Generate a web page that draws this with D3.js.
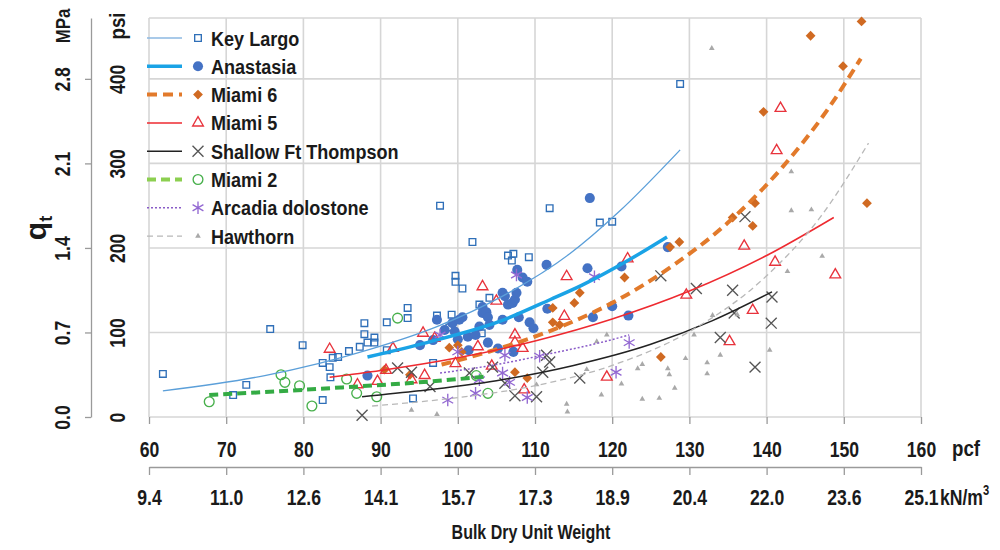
<!DOCTYPE html>
<html>
<head>
<meta charset="utf-8">
<script src="https://cdn.jsdelivr.net/npm/d3@7"></script>
<style>
body { margin: 0; background: #fff; }
svg text { font-family: "Liberation Sans", Arial, sans-serif; font-weight: bold; fill: #1a1a1a; }
</style>
</head>
<body>
<svg id="chart" width="1000" height="550"></svg>
<script>
"use strict"

// ---- data: [pcf, psi] ----
const keyLargo = [[61.8,51],[70.9,26],[72.6,38],[75.7,104],[79.9,85],[82.5,64],[82.5,20],[83.4,59],[83.5,47],[83.8,70],[84.5,71],[85.9,78],[87.3,83],[87.9,111],[87.9,98],[88.3,88],[89.2,94],[89.2,88],[90.8,112],[90.8,79],[93.5,129],[93.5,117],[94.2,22],[96.8,64],[97.3,120],[97.7,250],[98.9,106],[99.2,121],[99.7,167],[99.7,160],[100.6,152],[101.9,207],[102.8,133],[103.1,99],[104.1,141],[106.5,191],[107.0,185],[107.2,193],[109.2,189],[111.9,247],[118.4,230],[120.0,231],[128.8,394]]
const anastasia = [[88.3,49],[95.1,85],[96.8,91],[97.3,115],[98.3,103],[99.3,111],[99.6,101],[100.0,92],[100.2,115],[100.6,118],[101.3,95],[101.4,79],[102.3,97],[102.8,107],[103.2,130],[103.2,123],[103.7,124],[103.9,118],[104.1,109],[103.9,88],[105.2,81],[105.8,147],[106.1,143],[105.8,115],[106.5,133],[107.1,135],[107.4,139],[107.6,147],[107.7,174],[107.9,118],[108.4,165],[109.0,160],[109.3,112],[109.8,105],[107.2,77],[111.6,128],[111.5,180],[116.8,176],[117.1,259],[117.5,118],[120.0,131],[121.2,178],[122.1,120],[127.2,201]]
const miami6 = [[90.5,56],[93.8,50],[98.9,82],[100.0,85],[100.5,77],[107.4,53],[109.0,46],[112.3,129],[112.3,112],[113.2,109],[115.1,135],[115.8,147],[121.6,165],[126.3,71],[127.5,201],[128.7,207],[135.6,236],[138.2,226],[138.5,253],[139.6,361],[145.7,451],[149.9,415],[152.3,468],[153.0,253]]
const miami5 = [[83.4,82],[87.0,40],[89.6,44],[90.7,57],[91.6,83],[94.0,46],[95.7,51],[95.5,101],[97.0,95],[99.7,65],[102.6,85],[103.2,156],[104.4,62],[105.0,139],[107.4,99],[107.4,90],[108.4,83],[108.6,34],[113.8,121],[114.1,168],[119.3,49],[122.0,189],[129.6,146],[135.2,91],[137.1,204],[138.2,128],[141.1,185],[141.3,317],[141.8,367],[148.9,170]]
const shallowFt = [[87.6,2],[92.2,58],[94.0,53],[96.4,36],[101.5,52],[104.5,59],[106.1,40],[107.4,25],[110.2,24],[111.0,53],[111.5,73],[111.9,65],[115.8,46],[126.3,167],[130.9,152],[134.0,94],[135.6,150],[135.8,123],[137.2,237],[138.5,59],[140.6,111],[140.7,142]]
const miami2 = [[67.8,18],[77.1,50],[77.6,41],[79.5,37],[81.1,13],[85.6,45],[86.9,28],[89.5,24],[92.2,117],[102.4,49],[103.9,28]]
const arcadia = [[97.7,97],[98.7,20],[100.0,77],[102.3,28],[102.8,44],[105.8,52],[106.1,73],[106.7,41],[107.6,168],[109.0,23],[110.6,72],[117.7,166],[120.5,53],[122.2,88]]
const hawthorn = [[94.0,10],[97.3,5],[110.2,40],[114.1,17],[114.2,8],[116.7,58],[118.0,91],[118.6,28],[119.3,99],[121.2,41],[123.3,59],[123.9,64],[123.9,23],[126.1,24],[127.2,59],[127.4,52],[128.1,36],[129.5,71],[130.6,99],[132.3,66],[132.3,53],[132.9,438],[133.0,122],[134.0,75],[136.2,123],[140.4,81],[142.7,174],[143.2,292],[143.2,246],[145.8,247],[147.2,192]]

// trendlines: [pcf, psi]
const keyLargoTrend = [[61.8,31],[75,49],[88.6,80],[97.3,107],[105.8,143],[114.5,193],[120.9,243],[128.8,316]]
const anastasiaTrend = [[88.3,71],[96,88],[105.4,113],[112,139],[116.1,156],[122.2,186],[127.1,213]]
const miami6Trend = [[97.9,62],[105,80],[112,102],[120,135],[128,180],[135,230],[142,295],[148,365],[152.2,424]]
const miami5Trend = [[83.4,47],[90,55],[100,70],[110,90],[120,116],[130,149],[140,191],[148.7,236]]
const shallowFtTrend = [[87.6,24],[95,31],[105,43],[115,61],[125,86],[133,114],[140.7,148]]
const miami2Trend = [[67.8,26],[75,29.5],[85,35],[95,41],[103.9,48]]
const arcadiaTrend = [[97.7,52],[105,62],[112,75],[118,87],[122.2,97]]
const hawthornTrend = [[88.9,13],[100,23],[110,37],[120,61],[130,101],[140,167],[147,237],[153.2,324]]

const seriesNames = ["Key Largo", "Anastasia", "Miami 6", "Miami 5", "Shallow Ft Thompson", "Miami 2", "Arcadia dolostone", "Hawthorn"]

// ticks
const pcfTicks = [60, 70, 80, 90, 100, 110, 120, 130, 140, 150, 160]
const kNLabels = ["9.4", "11.0", "12.6", "14.1", "15.7", "17.3", "18.9", "20.4", "22.0", "23.6", "25.1"]
const psiTicks = [0, 100, 200, 300, 400]
const mpaLabels = ["0.0", "0.7", "1.4", "2.1", "2.8"]

// ---- styles ----
const styles = {
	"Key Largo":           { pts: keyLargo,  trend: keyLargoTrend,  sym: "square",   size: 44, fill: "none", stroke: "#2f6fb8", line: "#5b9fd9", lw: 1.3, dash: null, legendLine: "#8cb8e2" },
	"Anastasia":           { pts: anastasia, trend: anastasiaTrend, sym: "circle",   size: 80, fill: "#4472c4", stroke: "none", line: "#1aa3e6", lw: 3.5, dash: null },
	"Miami 6":             { pts: miami6,    trend: miami6Trend,    sym: "diamond",  size: 48, fill: "#d06a22", stroke: "none", line: "#e27a2b", lw: 4, dash: "10,6" },
	"Miami 5":             { pts: miami5,    trend: miami5Trend,    sym: "triangle", size: 50, fill: "none", stroke: "#e8333c", line: "#ee2a30", lw: 1.5, dash: null },
	"Shallow Ft Thompson": { pts: shallowFt, trend: shallowFtTrend, sym: "x",        size: 80, fill: "none", stroke: "#555555", line: "#222222", lw: 1.5, dash: null },
	"Miami 2":             { pts: miami2,    trend: miami2Trend,    sym: "circleO",  size: 75, fill: "none", stroke: "#48b04c", line: "#34ab44", lw: 4, dash: "9,5", legendLine: "#8ccf50" },
	"Arcadia dolostone":   { pts: arcadia,   trend: arcadiaTrend,   sym: "asterisk", size: 110, fill: "none", stroke: "#9368d2", line: "#8a5cc8", lw: 1.5, dash: "2,2" },
	"Hawthorn":            { pts: hawthorn,  trend: hawthornTrend,  sym: "triSmall", size: 14, fill: "#a9a9a9", stroke: "none", line: "#b8b8b8", lw: 1.3, dash: "6,4" }
}

const symbolTypes = {
	square: d3.symbolSquare, circle: d3.symbolCircle, diamond: d3.symbolSquare,
	triangle: d3.symbolTriangle, x: d3.symbolX, circleO: d3.symbolCircle,
	asterisk: d3.symbolAsterisk, triSmall: d3.symbolTriangle
}

// squeeze text horizontally (in its own reading direction) to mimic a narrow face
function narrow(sel, k) {
	sel.each(function() {
		const t = d3.select(this)
		const tx = +t.attr("x") || 0, ty = +t.attr("y") || 0
		const prev = t.attr("transform") || ""
		t.attr("x", null).attr("y", null)
			.attr("transform", prev + " translate(" + tx + "," + ty + ") scale(" + k + ",1)")
	})
}

const svg = d3.select("#chart")
const plotLeft = 149, plotRight = 921, plotTop = 18, plotBottom = 417

const x = d3.scaleLinear().domain([60, 160]).range([plotLeft, plotRight])
const y = d3.scaleLinear().domain([0, 472]).range([plotBottom, plotTop])

// grid
const grid = svg.append("g").attr("stroke", "#d6d6d6").attr("stroke-width", 1.6)
grid.selectAll(".vg").data(pcfTicks).enter().append("line")
	.attr("x1", d => x(d)).attr("x2", d => x(d)).attr("y1", plotTop).attr("y2", plotBottom)
grid.selectAll(".hg").data(psiTicks.concat([472])).enter().append("line")
	.attr("x1", plotLeft).attr("x2", plotRight).attr("y1", d => y(d)).attr("y2", d => y(d))

// bottom pcf axis
const xAxis = d3.axisBottom(x).tickValues(pcfTicks).tickSize(7).tickPadding(17).tickSizeOuter(0).tickFormat(d3.format("d"))
const gx = svg.append("g").attr("transform", "translate(0," + plotBottom + ")").call(xAxis)
gx.select(".domain").remove()
gx.selectAll("line").attr("stroke", "#9a9a9a").attr("stroke-width", 1.3)
gx.selectAll("text").style("font-size", "22px").attr("fill", "#1a1a1a").call(narrow, 0.8)

svg.append("text").attr("x", 952).attr("y", 456).style("font-size", "22px").text("pcf").call(narrow, 0.85)

// kN/m3 axis
const kAxis = d3.axisBottom(x).tickValues(pcfTicks).tickSize(8).tickPadding(14).tickSizeOuter(0).tickFormat((d, i) => kNLabels[i])
const gk = svg.append("g").attr("transform", "translate(0,467)").call(kAxis)
gk.select(".domain").attr("stroke", "#9a9a9a").attr("stroke-width", 1.3)
gk.selectAll("line").attr("stroke", "#9a9a9a").attr("stroke-width", 1.3)
gk.selectAll("text").style("font-size", "22px").attr("fill", "#1a1a1a").call(narrow, 0.8)

const unit = svg.append("text").attr("x", 940).attr("y", 505).style("font-size", "22px").text("kN/m")
unit.append("tspan").attr("dy", -10).style("font-size", "14px").text("3")
unit.call(narrow, 0.8)

svg.append("text").attr("x", 531).attr("y", 539).attr("text-anchor", "middle")
	.style("font-size", "20px").text("Bulk Dry Unit Weight").call(narrow, 0.8)

// MPa axis
const mAxis = d3.axisLeft(y).tickValues(psiTicks).tickSize(6).tickSizeOuter(0).tickFormat((d, i) => mpaLabels[i])
const gm = svg.append("g").attr("transform", "translate(91,0)").call(mAxis)
gm.select(".domain").attr("stroke", "#9a9a9a").attr("stroke-width", 1.3)
gm.selectAll("line").attr("stroke", "#9a9a9a").attr("stroke-width", 1.3)
gm.selectAll("text").attr("x", null)
	.attr("transform", "translate(-29,0) rotate(-90)")
	.attr("text-anchor", "middle").attr("dy", "0.36em")
	.style("font-size", "22px").attr("fill", "#1a1a1a").call(narrow, 0.8)

svg.append("text").attr("transform", "translate(62,26) rotate(-90)").attr("text-anchor", "middle")
	.attr("dy", "0.36em").style("font-size", "21px").text("MPa").call(narrow, 0.8)

// psi axis
const pAxis = d3.axisLeft(y).tickValues(psiTicks).tickSize(0).tickFormat(d3.format("d"))
const gp = svg.append("g").attr("transform", "translate(" + plotLeft + ",0)").call(pAxis)
gp.select(".domain").remove()
gp.selectAll("text").attr("x", null)
	.attr("transform", "translate(-32,0) rotate(-90)")
	.attr("text-anchor", "middle").attr("dy", "0.36em")
	.style("font-size", "22px").attr("fill", "#1a1a1a").call(narrow, 0.8)

svg.append("text").attr("transform", "translate(117,26) rotate(-90)").attr("text-anchor", "middle")
	.attr("dy", "0.36em").style("font-size", "22px").text("psi").call(narrow, 0.85)

const qt = svg.append("text").attr("transform", "translate(35,228) rotate(-90)").attr("text-anchor", "middle")
	.attr("dy", "0.36em").style("font-size", "30px").text("q")
qt.append("tspan").attr("dy", 6).style("font-size", "18px").text("t")

// markers
function drawSymbol(sel, st) {
	const gen = d3.symbol().type(symbolTypes[st.sym]).size(st.size)
	sel.attr("d", gen)
		.attr("fill", st.fill)
		.attr("stroke", st.stroke)
		.attr("stroke-width", 1.35)
}

const marks = svg.append("g")
seriesNames.forEach(name => {
	const st = styles[name]
	const rot = st.sym === "diamond" ? " rotate(45)" : ""
	const dy = (st.sym === "triangle" || st.sym === "triSmall") ? 1.5 : 0
	const p = marks.append("g").selectAll("path").data(st.pts).enter().append("path")
		.attr("transform", d => "translate(" + x(d[0]) + "," + (y(d[1]) + dy) + ")" + rot)
	drawSymbol(p, st)
})

// trendlines
const line = d3.line().x(d => x(d[0])).y(d => y(d[1])).curve(d3.curveMonotoneX)
const trends = svg.append("g").attr("fill", "none")
seriesNames.forEach(name => {
	const st = styles[name]
	trends.append("path").datum(st.trend)
		.attr("d", line)
		.attr("stroke", st.line)
		.attr("stroke-width", st.lw)
		.attr("stroke-dasharray", st.dash)
})

// legend
const legend = svg.append("g")
seriesNames.forEach((name, i) => {
	const st = styles[name]
	const ly = 38 + i * 28.3
	legend.append("line").attr("x1", 147).attr("x2", 182).attr("y1", ly).attr("y2", ly)
		.attr("stroke", st.legendLine || st.line).attr("stroke-width", st.lw)
		.attr("stroke-dasharray", st.dash)
	const rot = st.sym === "diamond" ? " rotate(45)" : ""
	const p = legend.append("path").attr("transform", "translate(198," + ly + ")" + rot)
	drawSymbol(p, st)
	legend.append("text").attr("x", 211).attr("y", ly).attr("dy", "0.36em")
		.style("font-size", "21px").text(name).call(narrow, 0.86)
})
</script>
</body>
</html>
